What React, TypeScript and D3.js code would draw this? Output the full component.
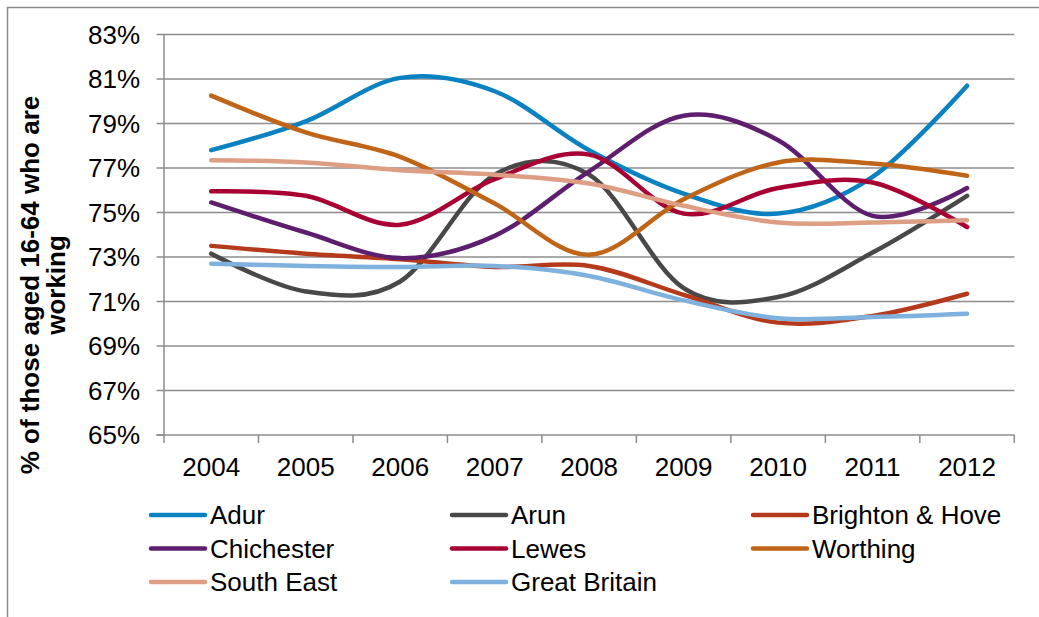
import React from 'react';
import * as d3 from 'd3';

const years = ['2004', '2005', '2006', '2007', '2008', '2009', '2010', '2011', '2012'];
const yTickValues = [65, 67, 69, 71, 73, 75, 77, 79, 81, 83];

const adur = [77.8, 79.1, 81.05, 80.45, 77.8, 75.85, 74.95, 76.6, 80.7];
const arun = [73.15, 71.45, 71.9, 76.7, 76.7, 71.6, 71.2, 73.2, 75.75];
const brighton = [73.5, 73.15, 72.9, 72.55, 72.6, 71.3, 70.05, 70.35, 71.35];
const chichester = [75.45, 74.1, 72.95, 73.95, 76.85, 79.35, 78.25, 74.85, 76.1];
const lewes = [75.95, 75.75, 74.45, 76.5, 77.6, 74.95, 76.1, 76.35, 74.35];
const worthing = [80.25, 78.6, 77.5, 75.4, 73.1, 75.6, 77.25, 77.2, 76.65];
const southEast = [77.35, 77.25, 76.9, 76.7, 76.3, 75.3, 74.55, 74.55, 74.65];
const greatBritain = [72.7, 72.6, 72.55, 72.6, 72.15, 71.05, 70.25, 70.3, 70.45];

const seriesNames = ['Adur', 'Arun', 'Brighton & Hove', 'Chichester', 'Lewes', 'Worthing', 'South East', 'Great Britain'];
const seriesValues = [adur, arun, brighton, chichester, lewes, worthing, southEast, greatBritain];
const seriesColors = ['#0A82C2', '#484848', '#B5391B', '#5E1E6E', '#A80032', '#C06417', '#DE9E84', '#7EB1DE'];

const W = 1039;
const H = 617;
const FONT = '"Liberation Sans", Arial, Helvetica, sans-serif';
const GRID = '#8C8C8C';

export default function App() {
  const x = d3.scalePoint<string>().domain(years).range([164, 1014.3]).padding(0.5);
  const y = d3.scaleLinear().domain([65, 83]).range([435, 34.5]);
  const band = x.step();

  const line = d3
    .line<number>()
    .x((_, i) => x(years[i]) as number)
    .y((v) => y(v))
    .curve(d3.curveCardinal.tension(0));

  const legendCols = [151, 452, 753];
  const legendRows = [515, 548.5, 582];

  return (
    <svg
      width={W}
      height={H}
      viewBox={`0 0 ${W} ${H}`}
      style={{ position: 'absolute', left: 0, top: 0, background: '#fff' }}
      fontFamily={FONT}
    >
      <rect x={0} y={0} width={W} height={H} fill="#fff" />
      {/* chart border */}
      <path d={`M7.5,${H} V7.5 H${W}`} fill="none" stroke="#8A8A8A" strokeWidth={1.5} />

      {/* gridlines & y ticks */}
      {yTickValues.map((t) => (
        <g key={t}>
          {t !== 65 && (
            <line x1={164} x2={1014.3} y1={y(t)} y2={y(t)} stroke={GRID} strokeWidth={1.5} />
          )}
          <line x1={156.5} x2={164} y1={y(t)} y2={y(t)} stroke={GRID} strokeWidth={1.5} />
          <text x={140} y={y(t)} dy="0.36em" textAnchor="end" fontSize={26} fill="#000">
            {t}%
          </text>
        </g>
      ))}

      {/* axes */}
      <line x1={164} x2={164} y1={y(83)} y2={y(65)} stroke={GRID} strokeWidth={1.5} />
      <line x1={156.5} x2={1014.3} y1={y(65)} y2={y(65)} stroke={GRID} strokeWidth={1.5} />
      {d3.range(years.length + 1).map((i) => (
        <line
          key={i}
          x1={164 + i * band}
          x2={164 + i * band}
          y1={y(65)}
          y2={y(65) + 8}
          stroke={GRID}
          strokeWidth={1.5}
        />
      ))}
      {years.map((yr) => (
        <text key={yr} x={x(yr)} y={476} textAnchor="middle" fontSize={26} fill="#000">
          {yr}
        </text>
      ))}

      {/* y axis title */}
      <g transform="translate(0,285)">
        <text transform="translate(39,0) rotate(-90)" textAnchor="middle" fontSize={26} fontWeight="bold" fill="#000">
          % of those aged 16-64 who are
        </text>
        <text transform="translate(65,0) rotate(-90)" textAnchor="middle" fontSize={26} fontWeight="bold" fill="#000">
          working
        </text>
      </g>

      {/* series */}
      {seriesValues.map((vals, i) => (
        <path
          key={seriesNames[i]}
          d={line(vals) || ''}
          fill="none"
          stroke={seriesColors[i]}
          strokeWidth={4.5}
          strokeLinecap="round"
          strokeLinejoin="round"
        />
      ))}

      {/* legend */}
      {seriesNames.map((name, i) => {
        const lx = legendCols[i % 3];
        const ly = legendRows[Math.floor(i / 3)];
        return (
          <g key={name}>
            <line x1={lx} x2={lx + 54} y1={ly} y2={ly} stroke={seriesColors[i]} strokeWidth={4.5} strokeLinecap="round" />
            <text x={lx + 59} y={ly} dy="0.36em" fontSize={26} fill="#000">
              {name}
            </text>
          </g>
        );
      })}
    </svg>
  );
}
